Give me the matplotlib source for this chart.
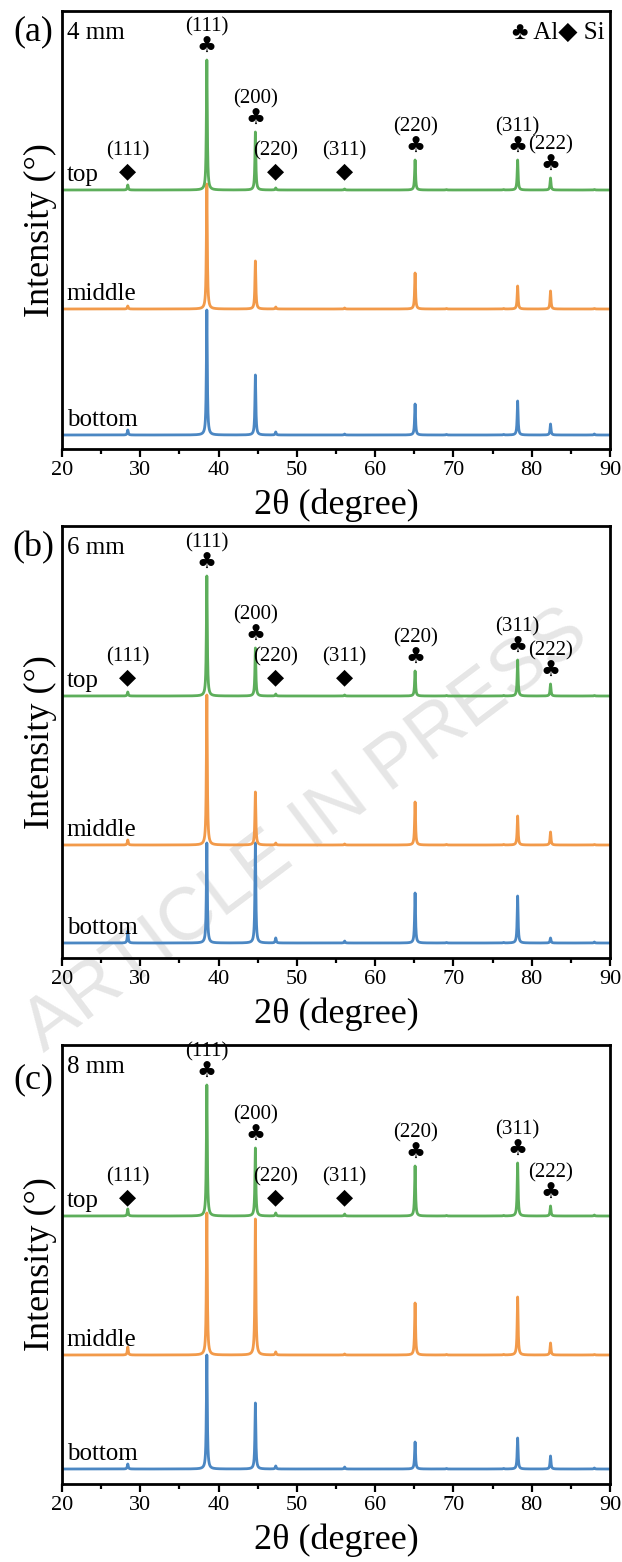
import numpy as np
import matplotlib
matplotlib.use("Agg")
from matplotlib import pyplot as plt
from matplotlib.ticker import MultipleLocator

plt.rcParams['font.family'] = ['Liberation Serif', 'DejaVu Sans']

# --- data -------------------------------------------------------------
# peak positions (2theta, degree)
peak_pos = [28.4, 38.5, 44.7, 47.3, 56.1, 65.1, 69.1, 76.4, 78.2, 82.4, 88.0]

# peak heights (same order as peak_pos)
a_top = [5, 130, 58, 2, 1, 30, 0.5, 0.5, 30, 12, 0.5]
a_mid = [3, 125, 48, 2, 1, 36, 0.5, 0.5, 23, 18, 0.5]
a_bot = [5, 125, 60, 3, 1, 31, 0.5, 0.5, 34, 11, 1]
b_top = [4, 120, 48, 2, 1, 25, 0.5, 0.5, 36, 12, 0.5]
b_mid = [5, 150, 53, 2, 1, 43, 0.5, 0.5, 29, 13, 0.5]
b_bot = [12, 100, 100, 5, 2, 50, 0.5, 0.5, 47, 5, 1]
c_top = [7, 131, 68, 3, 2, 50, 0.5, 0.5, 53, 10, 1]
c_mid = [8, 142, 136, 3, 1, 52, 0.5, 0.5, 58, 12, 0.5]
c_bot = [5, 114, 66, 3, 2, 27, 0.5, 0.5, 31, 13, 1]

samples = ['bottom', 'middle', 'top']
thickness = ['4 mm', '6 mm', '8 mm']
panel_tags = ['(a)', '(b)', '(c)']

# labelled reflections on the "top" pattern: (index in peak_pos, hkl, phase)
refl_idx = [0, 1, 2, 3, 4, 5, 8, 9]
refl_hkl = ['(111)', '(111)', '(200)', '(220)', '(311)', '(220)', '(311)', '(222)']
refl_phase = ['Si', 'Al', 'Al', 'Si', 'Si', 'Al', 'Al', 'Al']

# --- layout (pixels) ----------------------------------------------------
W, H = 622, 1562
left, right = 62, 610
panels = [(11, 449), (526, 958), (1045, 1484)]
offsets = [[14, 140, 259], [15, 113, 262], [15, 129, 268]]
tag_drop = [21, 22, 35]
colors = ['#4b87c3', '#f29a4a', '#5dae5b']
symbol = {'Al': '\u2663', 'Si': '\u25c6'}

data = [[a_bot, a_mid, a_top], [b_bot, b_mid, b_top], [c_bot, c_mid, c_top]]

x = np.arange(20, 90.001, 0.01)
g = 0.07


def pattern(heights, base):
    y = np.full_like(x, float(base))
    for p, h in zip(peak_pos, heights):
        y += h * g**2 / ((x - p)**2 + g**2)
    return y


fig = plt.figure(figsize=(W / 100, H / 100), dpi=100)

# watermark
fig.text(0.492, 0.468, 'ARTICLE IN PRESS', rotation=37, fontsize=54,
         color='#e6e6e6', ha='center', va='center', family='Liberation Sans',
         zorder=-1)

for k in range(3):
    top, bot = panels[k]
    hgt = bot - top
    ax = fig.add_axes([left / W, 1 - bot / H, (right - left) / W, hgt / H])
    ax.set_facecolor('none')
    ax.set_xlim(20, 90)
    ax.set_ylim(0, hgt)

    for j in range(3):
        ax.plot(x, pattern(data[k][j], offsets[k][j]), color=colors[j], lw=2)
        ax.text(20.6, offsets[k][j] + 9, samples[j], fontsize=18, va='baseline')

    # reflection markers above the top pattern
    base = offsets[k][2]
    for i, hkl, ph in zip(refl_idx, refl_hkl, refl_phase):
        pos = peak_pos[i]
        if ph == 'Al':
            ys = base + data[k][2][i] + 13
        else:
            ys = base + 19
        ax.text(pos, ys, symbol[ph], fontsize=16, ha='center', va='center',
                family='DejaVu Sans')
        ax.text(pos, ys + 20, hkl, fontsize=15, ha='center', va='center')

    ax.text(20.6, hgt - 28, thickness[k], fontsize=18, va='baseline')
    ax.text((33 - left) / (right - left), 1 - tag_drop[k] / hgt, panel_tags[k],
            fontsize=26, ha='center', va='center', transform=ax.transAxes)
    if k == 0:
        ax.text(1 - 5 / (right - left), 1 - 22 / hgt, '\u2663 Al\u25c6 Si',
                fontsize=18, ha='right', va='center', transform=ax.transAxes)

    for s in ax.spines.values():
        s.set_linewidth(2)
    ax.set_yticks([])
    ax.xaxis.set_major_locator(MultipleLocator(10))
    ax.xaxis.set_minor_locator(MultipleLocator(5))
    ax.tick_params(axis='x', which='major', direction='out', length=6,
                   width=1.6, labelsize=16, pad=3)
    ax.tick_params(axis='x', which='minor', direction='out', length=3.5,
                   width=1.6)
    ax.set_xlabel('2\u03b8 (degree)', fontsize=26, va='center')
    ax.xaxis.set_label_coords(0.5, -56 / hgt)
    ax.set_ylabel('Intensity (\u00b0)', fontsize=26, va='center')
    ax.yaxis.set_label_coords(-22 / (right - left), 0.5)

fig.savefig('out.png', dpi=100)
